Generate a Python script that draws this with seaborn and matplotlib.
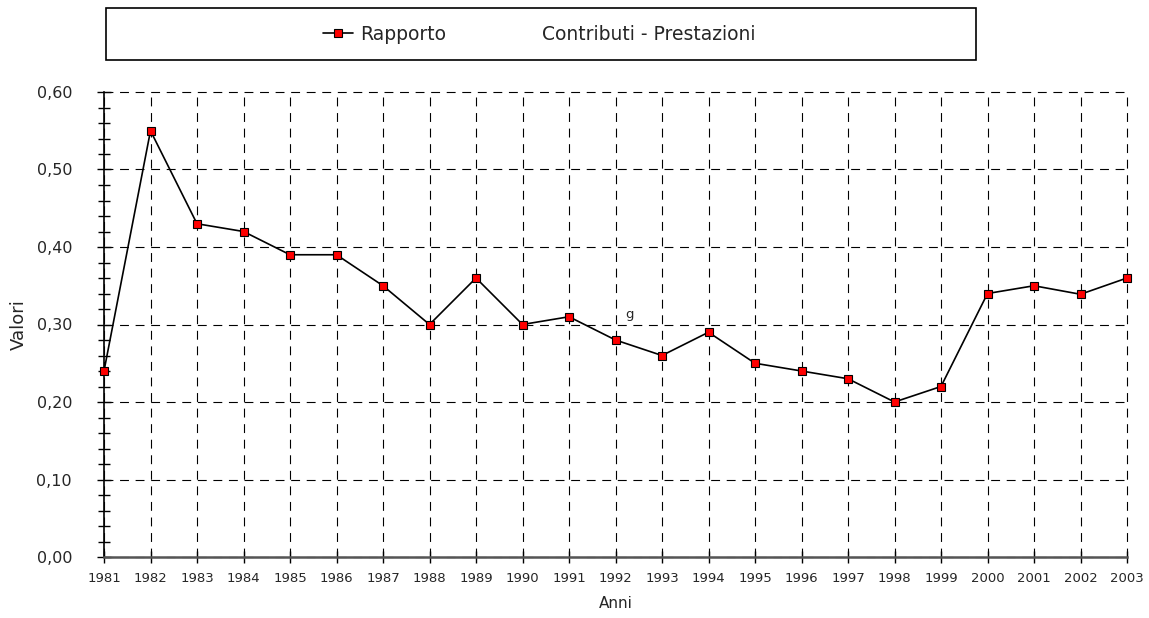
import numpy as np
import pandas as pd
import seaborn as sns
import matplotlib
matplotlib.use("Agg")
import matplotlib.pyplot as plt
from matplotlib.patches import Rectangle
from matplotlib.lines import Line2D
from matplotlib.ticker import MultipleLocator, FuncFormatter

anni = list(range(1981, 2004))
rapporto = [0.24, 0.55, 0.43, 0.42, 0.39, 0.39, 0.35, 0.30, 0.36, 0.30, 0.31, 0.28,
            0.26, 0.29, 0.25, 0.24, 0.23, 0.20, 0.22, 0.34, 0.35, 0.339, 0.36]

sns.set_style("white")
plt.rcParams['font.family'] = ['DejaVu Sans']

df = pd.DataFrame({"Anni": anni, "Valori": rapporto})

fig = plt.figure(figsize=(11.49, 6.18), dpi=100)
ax = fig.add_axes([104/1149, 1-557/618, (1127-104)/1149, (557-92)/618])

sns.lineplot(data=df, x="Anni", y="Valori", ax=ax, color="black", linewidth=1.2,
             marker="s", markersize=6, markerfacecolor="red", markeredgecolor="black",
             markeredgewidth=0.8, clip_on=False, zorder=5)

ax.set_xlim(1981, 2003)
ax.set_ylim(0, 0.6)
ax.set_xticks(anni)
ax.yaxis.set_major_locator(MultipleLocator(0.1))
ax.yaxis.set_minor_locator(MultipleLocator(0.02))
ax.yaxis.set_major_formatter(FuncFormatter(lambda v, p: f"{v:.2f}".replace(".", ",")))

ax.grid(True, which="major", color="black", linestyle=(0, (8, 6)), linewidth=0.8)
ax.set_axisbelow(True)
for gl in ax.get_xgridlines() + ax.get_ygridlines():
    gl.set_clip_on(False)
for s in ["top", "right"]:
    ax.spines[s].set_visible(False)
ax.spines["left"].set_color("black")
ax.spines["left"].set_linewidth(1.2)
ax.spines["bottom"].set_color("#555555")
ax.spines["bottom"].set_linewidth(1.8)

ax.tick_params(axis="y", which="major", direction="inout", length=10, width=1,
               color="black", labelsize=11.5, pad=18, left=True)
ax.tick_params(axis="y", which="minor", direction="inout", length=8, width=1,
               color="black", left=True)
ax.tick_params(axis="x", which="major", direction="inout", length=8, width=1,
               color="black", labelsize=9.5, pad=7, bottom=True)

ax.set_xlabel("Anni", fontsize=11, labelpad=8)
ax.set_ylabel("Valori", fontsize=13, labelpad=6)

ax.text(1992.2, 0.305, "g", fontsize=9.5, ha="left", va="bottom")

# legend box
fig.patches.append(Rectangle((106/1149, 1-60/618), 870/1149, 52/618,
                             transform=fig.transFigure, fill=False,
                             edgecolor="black", linewidth=1.2))
h = Line2D([], [], color="black", linewidth=1.2, marker="s", markersize=5.5,
           markerfacecolor="red", markeredgecolor="black", markeredgewidth=0.8)
fig.legend([h], ["Rapporto"], loc="center left",
           bbox_to_anchor=(323/1149, 1-34/618), frameon=False,
           fontsize=13.5, handlelength=1.6, handletextpad=0.37, borderpad=0, borderaxespad=0)
fig.text(542/1149, 1-34/618, "Contributi - Prestazioni", fontsize=13.5,
         ha="left", va="center")

fig.savefig("out.png", dpi=100)
